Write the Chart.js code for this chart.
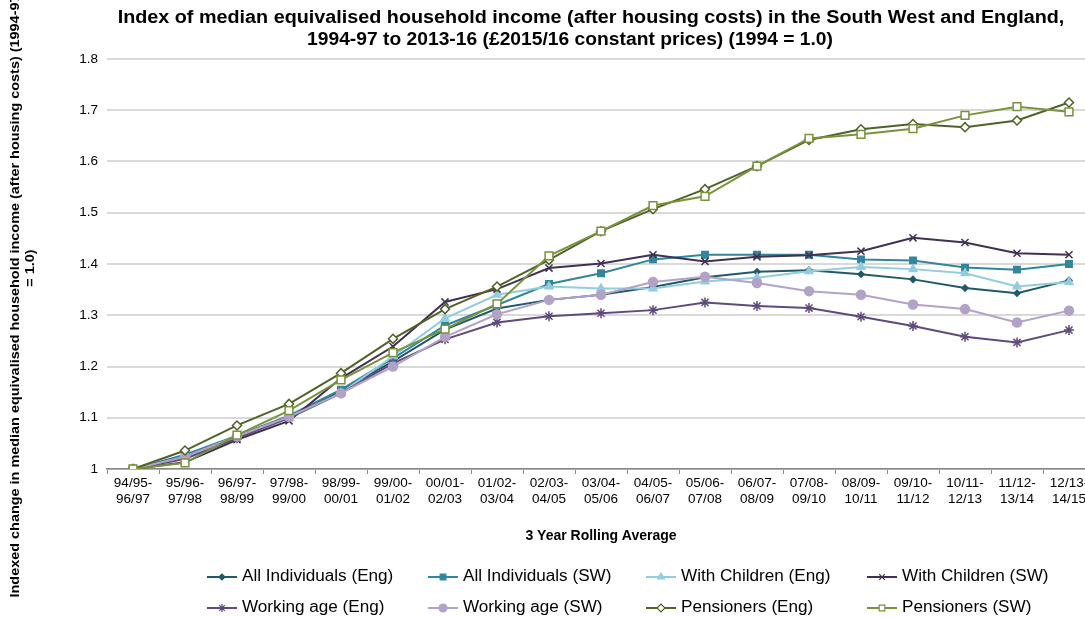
<!DOCTYPE html>
<html>
<head>
<meta charset="utf-8">
<script src="https://cdn.jsdelivr.net/npm/chart.js@4/dist/chart.umd.min.js"></script>
<style>
  html, body { margin: 0; padding: 0; background: #fff; overflow: hidden; }
  #wrap { width: 1160px; height: 618px; }
</style>
</head>
<body>
<div id="wrap"><canvas id="grafico" width="1160" height="618"></canvas></div>
<script>
const periodos = [
  ['94/95-', '96/97'], ['95/96-', '97/98'], ['96/97-', '98/99'], ['97/98-', '99/00'],
  ['98/99-', '00/01'], ['99/00-', '01/02'], ['00/01-', '02/03'], ['01/02-', '03/04'],
  ['02/03-', '04/05'], ['03/04-', '05/06'], ['04/05-', '06/07'], ['05/06-', '07/08'],
  ['06/07-', '08/09'], ['07/08-', '09/10'], ['08/09-', '10/11'], ['09/10-', '11/12'],
  ['10/11-', '12/13'], ['11/12-', '13/14'], ['12/13-', '14/15']
]

const yTicks = ['1', '1.1', '1.2', '1.3', '1.4', '1.5', '1.6', '1.7', '1.8']

const titulo = [
  'Index of median equivalised household income (after housing costs) in the South West and England,',
  '1994-97 to 2013-16 (£2015/16 constant prices) (1994 = 1.0)'
]
const tituloY = ['Indexed change in median equivalised household income (after housing costs) (1994-97', '= 1.0)']

const allEng  = [1.000, 1.025, 1.062, 1.102, 1.152, 1.210, 1.272, 1.313, 1.330, 1.340, 1.355, 1.374, 1.385, 1.388, 1.380, 1.370, 1.353, 1.343, 1.368]
const allSW   = [1.000, 1.028, 1.065, 1.104, 1.155, 1.216, 1.280, 1.320, 1.361, 1.382, 1.409, 1.418, 1.418, 1.418, 1.409, 1.407, 1.393, 1.389, 1.400]
const childEng = [1.000, 1.020, 1.062, 1.099, 1.148, 1.220, 1.294, 1.340, 1.356, 1.352, 1.352, 1.366, 1.373, 1.386, 1.394, 1.390, 1.382, 1.356, 1.365]
const childSW  = [1.000, 1.013, 1.057, 1.094, 1.177, 1.239, 1.326, 1.351, 1.392, 1.401, 1.418, 1.405, 1.414, 1.417, 1.425, 1.451, 1.442, 1.421, 1.418]
const workEng = [1.000, 1.020, 1.060, 1.100, 1.148, 1.206, 1.253, 1.286, 1.298, 1.304, 1.310, 1.325, 1.318, 1.314, 1.297, 1.279, 1.258, 1.247, 1.271]
const workSW  = [1.000, 1.024, 1.064, 1.102, 1.148, 1.200, 1.258, 1.302, 1.330, 1.340, 1.365, 1.375, 1.363, 1.347, 1.340, 1.321, 1.312, 1.286, 1.309]
const pensEng = [1.000, 1.036, 1.085, 1.127, 1.187, 1.254, 1.312, 1.356, 1.408, 1.464, 1.507, 1.546, 1.591, 1.642, 1.663, 1.673, 1.667, 1.680, 1.715]
const pensSW  = [1.000, 1.012, 1.066, 1.114, 1.174, 1.227, 1.273, 1.322, 1.416, 1.464, 1.514, 1.532, 1.591, 1.645, 1.653, 1.664, 1.690, 1.707, 1.697]

const fuente = '"Liberation Sans", Arial, sans-serif'

function serie(label, data, color, forma, radio, relleno) {
  return {
    label: label,
    data: data,
    borderColor: color,
    backgroundColor: color,
    borderWidth: 2,
    pointStyle: forma,
    pointRadius: radio,
    pointHoverRadius: radio,
    pointBackgroundColor: relleno || color,
    pointBorderColor: color,
    pointBorderWidth: 1.5,
    tension: 0
  }
}

const series = [
  serie('All Individuals (Eng)', allEng, '#215968', 'rectRot', 3),
  serie('All Individuals (SW)', allSW, '#31859C', 'rect', 4.5),
  serie('With Children (Eng)', childEng, '#93CDDD', 'triangle', 4.5),
  serie('With Children (SW)', childSW, '#403151', 'crossRot', 5),
  serie('Working age (Eng)', workEng, '#604A7B', 'star', 5),
  serie('Working age (SW)', workSW, '#B3A2C7', 'circle', 4.5),
  serie('Pensioners (Eng)', pensEng, '#4F6228', 'rectRot', 4.5, '#ffffff'),
  serie('Pensioners (SW)', pensSW, '#77933C', 'rect', 5.5, '#ffffff')
]
series.forEach((s, i) => { s.order = series.length - i })

// texto con estiramiento horizontal (excel lo dibuja mas ancho)
function texto(ctx, t, x, y, sx) {
  ctx.save()
  ctx.translate(x, y)
  ctx.scale(sx, 1)
  ctx.fillText(t, 0, 0)
  ctx.restore()
}

const titulos = {
  id: 'titulos',
  afterDraw(chart) {
    const ctx = chart.ctx
    ctx.save()
    ctx.fillStyle = '#000'
    ctx.textAlign = 'center'
    ctx.textBaseline = 'middle'
    ctx.font = 'bold 17.5px ' + fuente
    texto(ctx, titulo[0], 591, 18, 1.13)
    texto(ctx, titulo[1], 570, 40, 1.1)

    // titulo del eje y, girado
    ctx.font = 'bold 13px ' + fuente
    ctx.save()
    ctx.translate(15, 0)
    ctx.rotate(-Math.PI / 2)
    texto(ctx, tituloY[0], -296, 0, 1.11)
    texto(ctx, tituloY[1], -268, 15, 1.11)
    ctx.restore()
    ctx.restore()
  }
}

// leyenda al estilo excel: columnas fijas, linea con marcador
const leyenda = {
  id: 'leyenda',
  afterDraw(chart) {
    const ctx = chart.ctx
    const cols = [207, 428, 646, 867]
    const filas = [577, 608]
    ctx.save()
    series.forEach((s, i) => {
      const x = cols[i % 4]
      const y = filas[Math.floor(i / 4)]
      ctx.strokeStyle = s.borderColor
      ctx.lineWidth = 2
      ctx.beginPath()
      ctx.moveTo(x, y)
      ctx.lineTo(x + 30, y)
      ctx.stroke()
      ctx.fillStyle = s.pointBackgroundColor
      ctx.strokeStyle = s.borderColor
      ctx.lineWidth = 1.2
      Chart.helpers.drawPoint(ctx, {
        pointStyle: s.pointStyle,
        radius: Math.min(s.pointRadius, 4),
        rotation: 0,
        borderWidth: 1.2
      }, x + 15, y)
      ctx.fillStyle = '#000'
      ctx.font = '16px ' + fuente
      ctx.textBaseline = 'middle'
      ctx.textAlign = 'left'
      texto(ctx, s.label, x + 35, y, 1.07)
    })
    ctx.restore()
  }
}

new Chart(document.getElementById('grafico'), {
  type: 'line',
  data: { labels: periodos, datasets: series },
  plugins: [titulos, leyenda],
  options: {
    responsive: false,
    animation: false,
    layout: { padding: { top: 59, left: 0, right: 65, bottom: 64 } },
    plugins: {
      legend: { display: false },
      tooltip: { enabled: false },
      title: { display: false }
    },
    scales: {
      x: {
        offset: true,
        afterFit(scale) { scale.height = 85 },
        grid: {
          offset: true,
          drawOnChartArea: false,
          drawTicks: true,
          tickLength: 5,
          color: '#868686'
        },
        border: { color: '#868686', width: 1.5 },
        ticks: {
          color: '#000',
          autoSkip: false,
          maxRotation: 0,
          padding: 1,
          font: { family: fuente, size: 13.5, lineHeight: 1.2 }
        },
        title: {
          display: true,
          text: '3 Year Rolling Average',
          color: '#000',
          font: { family: fuente, size: 14, weight: 'bold' },
          padding: { top: 0, bottom: 9 }
        }
      },
      y: {
        min: 1,
        max: 1.8,
        afterFit(scale) { scale.width = 107 },
        afterBuildTicks(scale) {
          scale.ticks = yTicks.map(t => ({ value: parseFloat(t) }))
        },
        grid: { color: '#D9D9D9', lineWidth: 2, drawTicks: false },
        border: { display: false },
        ticks: {
          color: '#000',
          padding: 9,
          callback: (v, i) => yTicks[i],
          font: { family: fuente, size: 13.5 }
        },
        title: { display: false }
      }
    }
  }
})
</script>
</body>
</html>
